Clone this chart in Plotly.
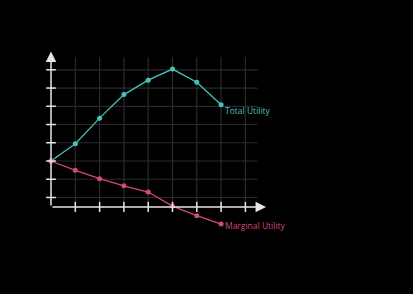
import plotly.graph_objects as go

# Units consumed and the two utility curves
units = [0, 1, 2, 3, 4, 5, 6, 7]
total_utility = [0, 9.5, 23.5, 36.4, 44.3, 50.4, 43.2, 30.8]
marginal_utility = [0, -5.1, -9.7, -13.6, -17.0, -24.7, -30.0, -34.6]

# Grid positions
x_grid = [1, 2, 3, 4, 5, 6, 7, 8]
y_grid = [-20, -10, 0, 10, 20, 30, 40, 50]

TEAL = "#46c2b8"
PINK = "#cf4a7b"
AXIS = "#e6e6e6"
GRID = "#2a2a2a"

x_axis_y = -25.2
grid_top = 57
grid_right = 8.5

fig = go.Figure()

shapes = []
for gx in x_grid:
    shapes.append(dict(type="line", x0=gx, x1=gx, y0=x_axis_y, y1=grid_top,
                       line=dict(color=GRID, width=1.2), layer="below"))
for gy in y_grid:
    shapes.append(dict(type="line", x0=0, x1=grid_right, y0=gy, y1=gy,
                       line=dict(color=GRID, width=1.2), layer="below"))
# tick marks on both axes
for gx in x_grid:
    shapes.append(dict(type="line", x0=gx, x1=gx, y0=x_axis_y - 2.8, y1=x_axis_y + 2.8,
                       line=dict(color=AXIS, width=1.5)))
for gy in y_grid:
    shapes.append(dict(type="line", x0=-0.2, x1=0.2, y0=gy, y1=gy,
                       line=dict(color=AXIS, width=1.5)))

fig.add_trace(go.Scatter(x=units, y=total_utility, mode="lines+markers",
                         line=dict(color=TEAL, width=1.3),
                         marker=dict(color=TEAL, size=5), hoverinfo="skip"))
fig.add_trace(go.Scatter(x=units, y=marginal_utility, mode="lines+markers",
                         line=dict(color=PINK, width=1.3),
                         marker=dict(color=PINK, size=5), hoverinfo="skip"))

annotations = [
    # axes with arrowheads
    dict(x=8.85, y=x_axis_y, ax=0, ay=x_axis_y, xref="x", yref="y", axref="x", ayref="y",
         showarrow=True, arrowhead=2, arrowsize=1.4, arrowwidth=1.5, arrowcolor=AXIS, text=""),
    dict(x=0, y=60, ax=0, ay=x_axis_y, xref="x", yref="y", axref="x", ayref="y",
         showarrow=True, arrowhead=2, arrowsize=1.4, arrowwidth=1.5, arrowcolor=AXIS, text=""),
    dict(x=units[-1], y=total_utility[-1], text="Total Utility", showarrow=False,
         xanchor="left", yanchor="middle", xshift=2, yshift=-6,
         font=dict(color=TEAL, size=8.5, family="Open Sans")),
    dict(x=units[-1], y=marginal_utility[-1], text="Marginal Utility", showarrow=False,
         xanchor="left", yanchor="middle", xshift=2, yshift=-1,
         font=dict(color=PINK, size=8.5, family="Open Sans")),
]

fig.update_layout(
    width=413, height=294,
    margin=dict(l=0, r=0, t=0, b=0),
    paper_bgcolor="black", plot_bgcolor="black",
    showlegend=False,
    shapes=shapes,
    annotations=annotations,
    xaxis=dict(range=[-2.099, 14.897], visible=False, fixedrange=True),
    yaxis=dict(range=[-72.92, 88.27], visible=False, fixedrange=True),
)

fig.write_html("out.html", config={"displayModeBar": False})
